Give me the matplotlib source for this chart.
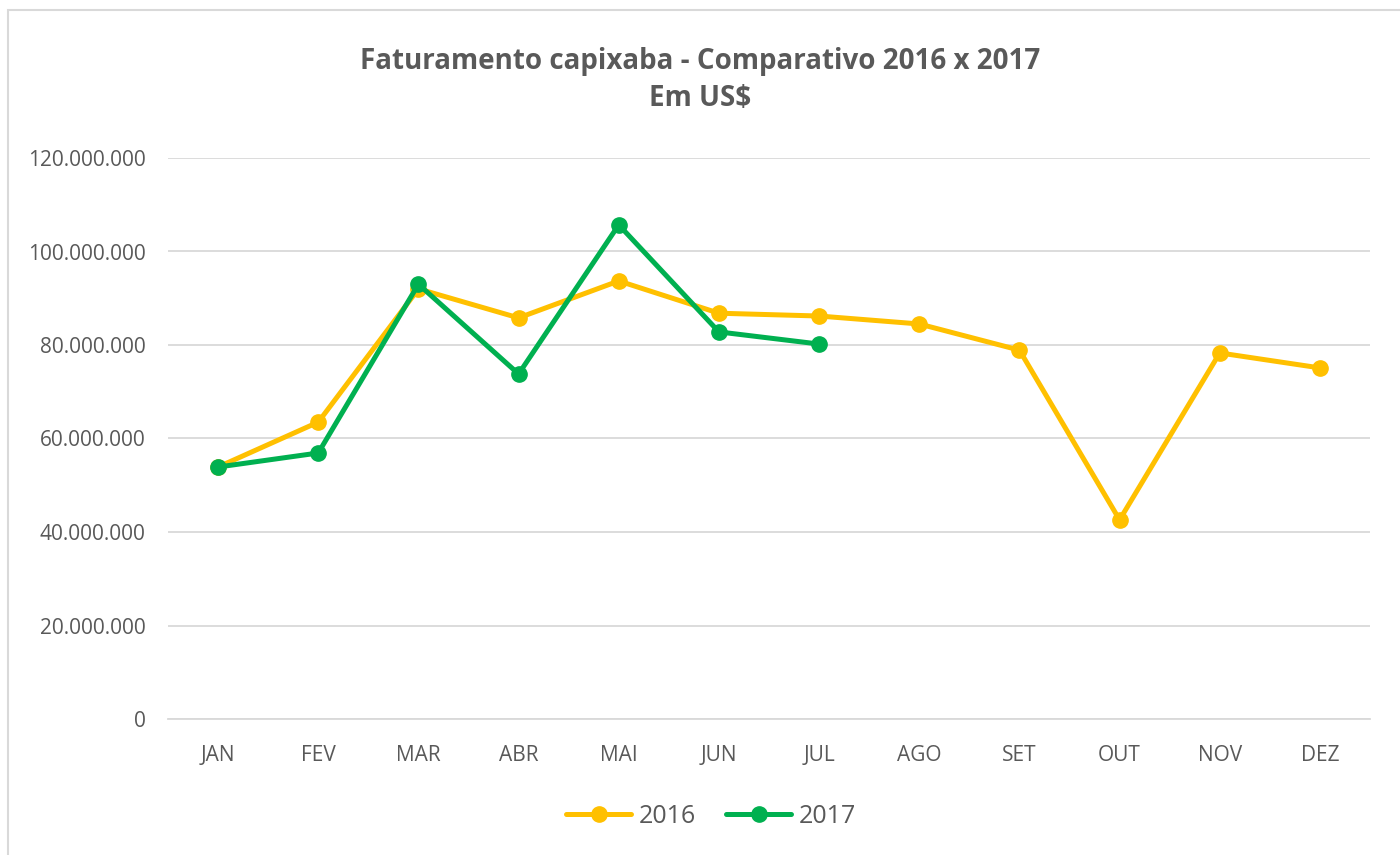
import matplotlib.pyplot as plt
from matplotlib.ticker import FuncFormatter
from matplotlib.patches import Rectangle

meses = ['JAN', 'FEV', 'MAR', 'ABR', 'MAI', 'JUN', 'JUL', 'AGO', 'SET', 'OUT', 'NOV', 'DEZ']
fat_2016 = [53.9e6, 63.5e6, 92.0e6, 85.8e6, 93.7e6, 86.8e6, 86.2e6, 84.5e6, 78.9e6, 42.6e6, 78.3e6, 75.1e6]
fat_2017 = [53.9e6, 56.9e6, 93.0e6, 73.8e6, 105.7e6, 82.8e6, 80.2e6]

cinza = '#595959'
plt.rcParams['font.family'] = ['Open Sans', 'DejaVu Sans']

fig = plt.figure(figsize=(14, 8.55), dpi=100)
# moldura do grafico
fig.patches.append(Rectangle((8 / 1400, -0.01), 1.1, 1 - 10 / 855 + 0.01, transform=fig.transFigure,
                             fill=False, edgecolor='#d9d9d9', linewidth=1.5))
ax = fig.add_axes([168 / 1400, 1 - 719 / 855, (1370 - 168) / 1400, (719 - 158) / 855])

x = list(range(len(meses)))
ax.plot(x, fat_2016, color='#FFC000', linewidth=3.6, marker='o', markersize=11,
        solid_capstyle='round', label='2016', zorder=3)
ax.plot(x[:len(fat_2017)], fat_2017, color='#00B050', linewidth=3.6, marker='o', markersize=11,
        solid_capstyle='round', label='2017', zorder=4)

ax.set_xlim(-0.5, 11.5)
ax.set_ylim(0, 120e6)
ax.set_yticks(range(0, 120000001, 20000000))
ax.yaxis.set_major_formatter(FuncFormatter(lambda v, p: f'{int(v):,}'.replace(',', '.')))
ax.set_xticks(x)
ax.set_xticklabels(meses)
ax.grid(axis='y', color='#d9d9d9', linewidth=1.3)
ax.set_axisbelow(True)
for s in ['top', 'right', 'left']:
    ax.spines[s].set_visible(False)
ax.spines['bottom'].set_color('#d9d9d9')
ax.spines['bottom'].set_linewidth(1.3)
ax.tick_params(length=0, colors=cinza, labelsize=15)
ax.tick_params(axis='x', pad=19)
ax.tick_params(axis='y', pad=16)

fig.text(0.5, 1 - 80 / 855, 'Faturamento capixaba - Comparativo 2016 x 2017\nEm US$', ha='center', va='center',
         fontsize=20, fontweight='bold', color=cinza, linespacing=1.35)

fig.legend(loc='center', bbox_to_anchor=(0.508, 1 - 816 / 855), ncol=2, frameon=False,
           fontsize=18, labelcolor=cinza, handlelength=2.6, columnspacing=1.2, handletextpad=0.3)

fig.savefig('out.png', dpi=100, facecolor='white')
